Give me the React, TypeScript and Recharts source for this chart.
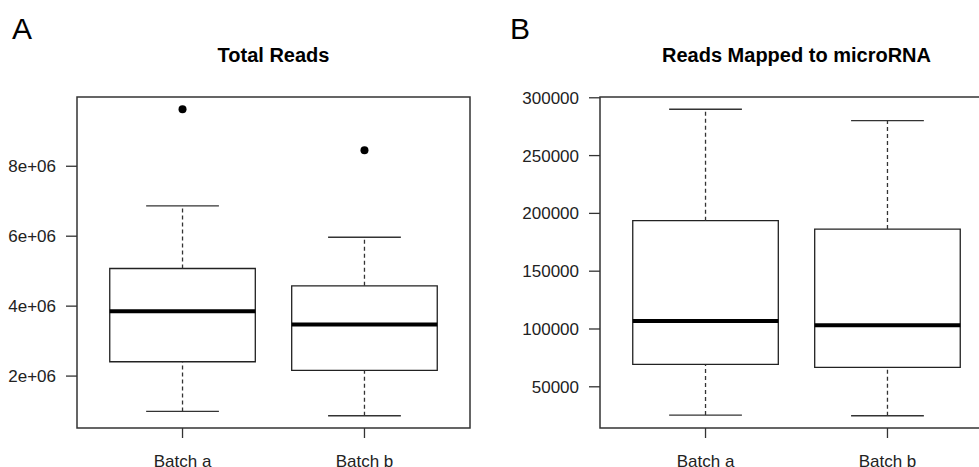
import {
  ComposedChart,
  XAxis,
  YAxis,
  Scatter,
  ReferenceArea,
  ReferenceLine,
} from "recharts";

const batches = ["Batch a", "Batch b"];

// five-number summaries: [min, q1, median, q3, max]
const totalReads = [
  [990000, 2410000, 3857000, 5077000, 6866000],
  [866000, 2163000, 3476000, 4580000, 5970000],
];
const totalReadsOutliers = [
  { x: 1, y: 9630000 },
  { x: 2, y: 8457000 },
];
const totalReadsTicks = [2000000, 4000000, 6000000, 8000000];

const mirnaReads = [
  [25560, 69340, 107000, 193700, 290070],
  [24960, 66750, 103280, 186440, 280300],
];
const mirnaReadsOutliers: { x: number; y: number }[] = [];
const mirnaReadsTicks = [50000, 100000, 150000, 200000, 250000, 300000];

const FONT = "'Liberation Sans', Arial, sans-serif";
const LINE = "#333";

function extendRange(lo: number, hi: number): [number, number] {
  const pad = (hi - lo) * 0.04;
  return [lo - pad, hi + pad];
}

interface BoxPanelProps {
  stats: number[][];
  outliers: { x: number; y: number }[];
  ticks: number[];
  format: (v: number) => string;
  width: number;
  left: number;
  yWidth: number;
  right: number;
}

function BoxPanel({ stats, outliers, ticks, format, width, left, yWidth, right }: BoxPanelProps) {
  const all = stats.flat().concat(outliers.map((o) => o.y));
  const yDomain = extendRange(Math.min(...all), Math.max(...all));
  const xDomain = extendRange(0.5, stats.length + 0.5);

  return (
    <div style={{ position: "absolute", left, top: 0 }}>
      <ComposedChart
        width={width}
        height={467}
        margin={{ top: 97, right, bottom: 0, left: 0 }}
      >
        <XAxis
          type="number"
          dataKey="x"
          domain={xDomain}
          ticks={stats.map((_, i) => i + 1)}
          tickFormatter={(v) => batches[v - 1]}
          allowDataOverflow
          height={39}
          tickSize={10}
          tickMargin={17}
          axisLine={false}
          tickLine={{ stroke: LINE, strokeWidth: 1.3 }}
          tick={{ fill: "#222", fontSize: 17, fontFamily: FONT }}
        />
        <YAxis
          type="number"
          dataKey="y"
          domain={yDomain}
          ticks={ticks}
          tickFormatter={format}
          allowDataOverflow
          width={yWidth}
          tickSize={11}
          tickMargin={10}
          axisLine={false}
          tickLine={{ stroke: LINE, strokeWidth: 1.3 }}
          tick={{ fill: "#222", fontSize: 17, fontFamily: FONT }}
        />
        <ReferenceArea
          x1={xDomain[0]}
          x2={xDomain[1]}
          y1={yDomain[0]}
          y2={yDomain[1]}
          fill="none"
          stroke={LINE}
          strokeWidth={1.5}
          ifOverflow="visible"
        />
        {stats.map(([mn, q1, md, q3, mx], i) => {
          const c = i + 1;
          return [
            <ReferenceLine
              key={`wu${i}`}
              segment={[{ x: c, y: q3 }, { x: c, y: mx }]}
              stroke={LINE}
              strokeWidth={1.3}
              strokeDasharray="4 3"
            />,
            <ReferenceLine
              key={`wl${i}`}
              segment={[{ x: c, y: mn }, { x: c, y: q1 }]}
              stroke={LINE}
              strokeWidth={1.3}
              strokeDasharray="4 3"
            />,
            <ReferenceLine
              key={`cu${i}`}
              segment={[{ x: c - 0.2, y: mx }, { x: c + 0.2, y: mx }]}
              stroke={LINE}
              strokeWidth={1.3}
            />,
            <ReferenceLine
              key={`cl${i}`}
              segment={[{ x: c - 0.2, y: mn }, { x: c + 0.2, y: mn }]}
              stroke={LINE}
              strokeWidth={1.3}
            />,
            <ReferenceArea
              key={`b${i}`}
              x1={c - 0.4}
              x2={c + 0.4}
              y1={q1}
              y2={q3}
              fill="#fff"
              fillOpacity={1}
              stroke="#222"
              strokeWidth={1.3}
            />,
            <ReferenceLine
              key={`m${i}`}
              segment={[{ x: c - 0.4, y: md }, { x: c + 0.4, y: md }]}
              stroke="#000"
              strokeWidth={4}
            />,
          ];
        })}
        <Scatter
          data={outliers}
          fill="#000"
          isAnimationActive={false}
          shape={(p: any) => <circle cx={p.cx} cy={p.cy} r={4} fill="#000" />}
        />
      </ComposedChart>
    </div>
  );
}

const sci = (v: number) => `${Math.round(v / 1e6)}e+06`;

export default function App() {
  return (
    <div
      style={{
        position: "absolute",
        left: 0,
        top: 0,
        width: 979,
        height: 467,
        overflow: "hidden",
        background: "#fff",
      }}
    >
      <BoxPanel
        stats={totalReads}
        outliers={totalReadsOutliers}
        ticks={totalReadsTicks}
        format={sci}
        width={490}
        left={0}
        yWidth={77}
        right={20}
      />
      <BoxPanel
        stats={mirnaReads}
        outliers={mirnaReadsOutliers}
        ticks={mirnaReadsTicks}
        format={(v) => String(v)}
        width={520}
        left={490}
        yWidth={110}
        right={17}
      />
      <svg
        width={979}
        height={467}
        style={{ position: "absolute", left: 0, top: 0, pointerEvents: "none" }}
      >
        <g fontFamily={FONT} fill="#000">
          <text x={12} y={39} fontSize={30}>A</text>
          <text x={510} y={39} fontSize={30}>B</text>
          <text x={273.5} y={62} fontSize={20} fontWeight="bold" textAnchor="middle">
            Total Reads
          </text>
          <text x={796.5} y={62} fontSize={20} fontWeight="bold" textAnchor="middle">
            Reads Mapped to microRNA
          </text>
        </g>
      </svg>
    </div>
  );
}
